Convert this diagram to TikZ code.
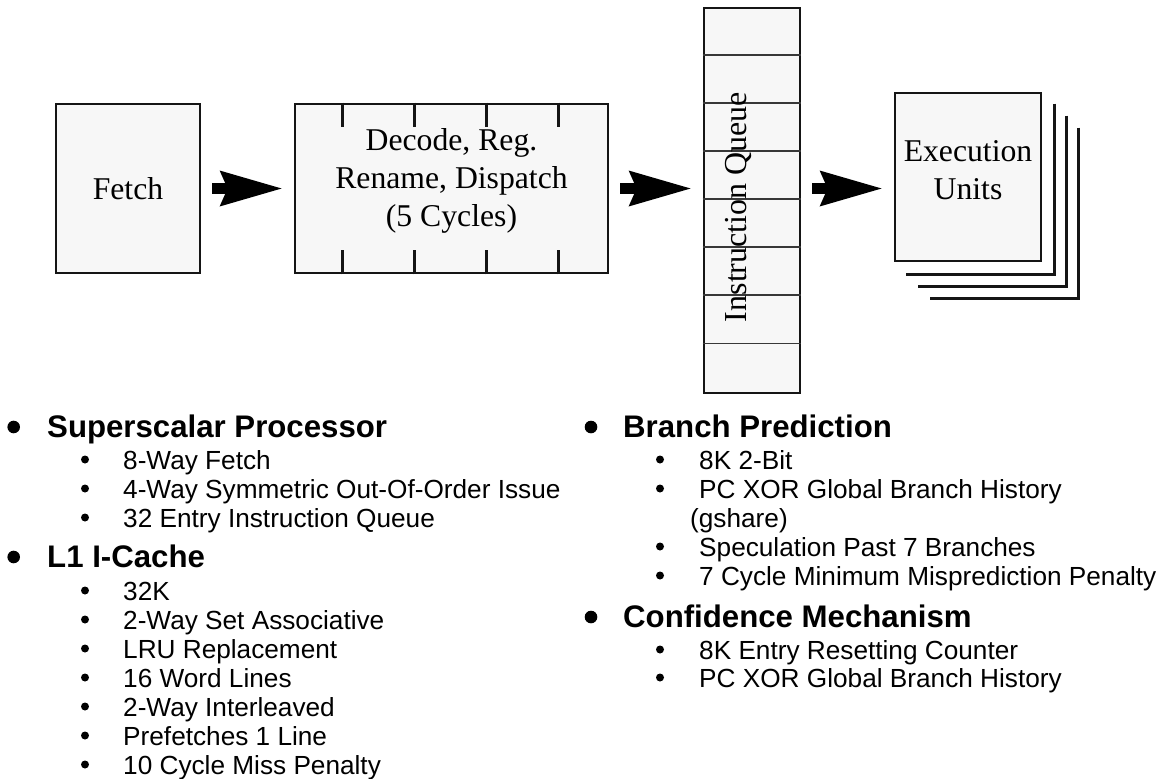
\documentclass[tikz,border=0pt]{standalone}
\usepackage{fontspec}
\setmainfont{Liberation Serif}
\newfontfamily\arialfont{Liberation Sans}
\usetikzlibrary{arrows.meta}
\definecolor{boxfill}{HTML}{F7F7F7}
\definecolor{edgecol}{HTML}{151515}
\begin{document}
\begin{tikzpicture}[x=1pt,y=-1pt,
  stage/.style={draw=edgecol, line width=2.8pt, fill=boxfill, inner sep=0pt,
    font=\fontsize{31.7}{38}\selectfont},
  lbl/.style={font=\fontsize{31.7}{38}\selectfont, align=center, inner sep=0pt},
  bigarrow/.style={line width=11pt,
    -{Stealth[length=62pt,width=36pt,inset=8pt,line width=0pt]},
    shorten <=11pt, shorten >=12pt},
  tickline/.style={line width=2.8pt, draw=edgecol},
  sepline/.style={line width=1.6pt, draw=edgecol!85},
  stackline/.style={line width=2.6pt, draw=edgecol},
  headtxt/.style={anchor=base west, inner sep=0pt,
    font=\arialfont\bfseries\fontsize{31.2}{36}\selectfont},
  itemtxt/.style={anchor=base west, inner sep=0pt,
    font=\arialfont\fontsize{26.2}{30}\selectfont}
]
\useasboundingbox (0,0) rectangle (1170,779);
\fill[white] (0,0) rectangle (1170,779);

% pipeline stages
\node[stage, minimum width=144pt, minimum height=169pt] (fetch) at (128,188.5) {Fetch};
\node[stage, minimum width=313pt, minimum height=169pt] (decode) at (451.5,188.5) {};
\foreach \k in {0,...,3} {
  \draw[tickline] ([xshift=49pt+72pt*\k]decode.north west) -- ++(0,24);
  \draw[tickline] ([xshift=49pt+72pt*\k]decode.south west) -- ++(0,-24);
}
\node[lbl] (decodelbl) at ([yshift=8pt]decode.center) {Decode, Reg.\\Rename, Dispatch\\(5 Cycles)};

\node[stage, minimum width=96pt, minimum height=385pt] (queue) at (752,200.5) {};
\foreach \k in {1,...,7}
  \draw[sepline] ([yshift=-48.1pt*\k]queue.north west) -- ([yshift=-48.1pt*\k]queue.north east);
\node[lbl, rotate=90, font=\fontsize{32}{38}\selectfont] (queuelbl) at (738,207) {Instruction Queue};

\node[stage, minimum width=146pt, minimum height=168pt] (exec) at (968,177) {};
\node[lbl] (execlbl) at ([yshift=7pt]exec.center) {Execution\\Units};
\foreach \k in {1,2,3}
  \draw[stackline] ([shift={(12*\k,12*\k)}]exec.north east)
    -- ([shift={(12*\k,12*\k)}]exec.south east)
    -- ([shift={(12*\k,12*\k)}]exec.south west);

% arrows
\draw[bigarrow] (fetch.east) -- (decode.west);
\draw[bigarrow] (decode.east) -- (decode.east -| queue.west);
\draw[bigarrow] (decode.east -| queue.east) -- (decode.east -| exec.west);

% left column
\node[headtxt] (h1) at (47,437) {Superscalar Processor};
\fill (13.7,427) circle (6.3);
\foreach \y/\t [count=\i] in {469/8-Way Fetch, 498/4-Way Symmetric Out-Of-Order Issue, 527/32 Entry Instruction Queue} {
  \fill (85,\y-9.5) circle (4);
  \node[itemtxt] (a\i) at (123,\y) {\t};
}
\node[headtxt] (h2) at (47,567) {L1 I-Cache};
\fill (13.7,557) circle (6.3);
\foreach \y/\t [count=\i] in {600/32K, 629/2-Way Set Associative, 658/LRU Replacement, 687/16 Word Lines, 716/2-Way Interleaved, 745/Prefetches 1 Line, 774/10 Cycle Miss Penalty} {
  \fill (85,\y-9.5) circle (4);
  \node[itemtxt] (b\i) at (123,\y) {\t};
}

% right column
\node[headtxt] (h3) at (623,437) {Branch Prediction};
\fill (591,427) circle (6.3);
\foreach \y/\t [count=\i] in {469/8K 2-Bit, 498/PC XOR Global Branch History, 556/Speculation Past 7 Branches, 585/7 Cycle Minimum Misprediction Penalty} {
  \fill (660,\y-9.5) circle (4);
  \node[itemtxt] (c\i) at (699,\y) {\t};
}
\node[itemtxt] (gshare) at (690,527) {(gshare)};
\node[headtxt] (h4) at (623,627) {Confidence Mechanism};
\fill (591,617) circle (6.3);
\foreach \y/\t [count=\i] in {659/8K Entry Resetting Counter, 687/PC XOR Global Branch History} {
  \fill (660,\y-9.5) circle (4);
  \node[itemtxt] (d\i) at (699,\y) {\t};
}
\end{tikzpicture}
\end{document}
